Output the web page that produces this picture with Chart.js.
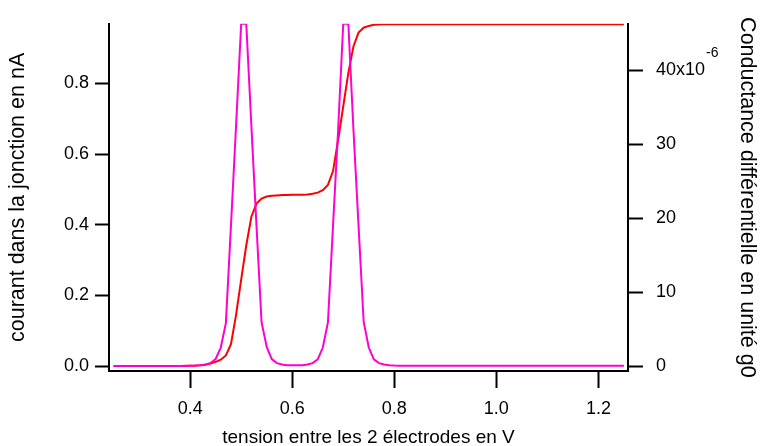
<!DOCTYPE html>
<html>
<head>
<meta charset="utf-8">
<script src="https://cdn.jsdelivr.net/npm/chart.js@4.4.0/dist/chart.umd.min.js"></script>
<style>
  html, body { margin: 0; padding: 0; background: #fff; }
</style>
</head>
<body>
<canvas id="chart" width="760" height="446"></canvas>
<script>
// tension (V)
const voltage = [
  0.25, 0.26, 0.27, 0.28, 0.29, 0.30, 0.31, 0.32, 0.33, 0.34,
  0.35, 0.36, 0.37, 0.38, 0.39, 0.40, 0.41, 0.42, 0.43, 0.44,
  0.45, 0.46, 0.47, 0.48, 0.49, 0.50, 0.51, 0.52, 0.53, 0.54,
  0.55, 0.56, 0.57, 0.58, 0.59, 0.60, 0.61, 0.62, 0.63, 0.64,
  0.65, 0.66, 0.67, 0.68, 0.69, 0.70, 0.71, 0.72, 0.73, 0.74,
  0.75, 0.76, 0.77, 0.78, 0.79, 0.80, 0.81, 0.82, 0.83, 0.84,
  0.85, 0.86, 0.87, 0.88, 0.89, 0.90, 0.91, 0.92, 0.93, 0.94,
  0.95, 0.96, 0.97, 0.98, 0.99, 1.00, 1.01, 1.02, 1.03, 1.04,
  1.05, 1.06, 1.07, 1.08, 1.09, 1.10, 1.11, 1.12, 1.13, 1.14,
  1.15, 1.16, 1.17, 1.18, 1.19, 1.20, 1.21, 1.22, 1.23, 1.24,
  1.25
];

// courant (nA)
const currentNA = [
  0, 0, 0, 0, 0, 0, 0, 0, 0, 0,
  0, 0, 0, 0, 0.0005, 0.001, 0.001, 0.002, 0.004, 0.007,
  0.012, 0.018, 0.030, 0.062, 0.145, 0.245, 0.342, 0.423, 0.460, 0.474,
  0.480, 0.482, 0.483, 0.484, 0.484, 0.485, 0.485, 0.485, 0.486, 0.488,
  0.491, 0.498, 0.513, 0.552, 0.640, 0.735, 0.830, 0.905, 0.944, 0.958,
  0.963, 0.966, 0.967, 0.968, 0.968, 0.968, 0.968, 0.968, 0.968, 0.968,
  0.968, 0.968, 0.968, 0.968, 0.968, 0.968, 0.968, 0.968, 0.968, 0.968,
  0.968, 0.968, 0.968, 0.968, 0.968, 0.968, 0.968, 0.968, 0.968, 0.968,
  0.968, 0.968, 0.968, 0.968, 0.968, 0.968, 0.968, 0.968, 0.968, 0.968,
  0.968, 0.968, 0.968, 0.968, 0.968, 0.968, 0.968, 0.968, 0.968, 0.968,
  0.968
];

// conductance differentielle (x10^-6 g0), peaks shown cut at the top of the axis
const conductanceE6 = [
  0.02, 0.02, 0.02, 0.02, 0.02, 0.02, 0.02, 0.02, 0.02, 0.02,
  0.02, 0.02, 0.02, 0.02, 0.03, 0.04, 0.06, 0.1, 0.2, 0.4,
  0.95, 2.5, 5.8, 19, 32.5, 46.3, 46.3, 32.5, 19, 5.9,
  2.6, 0.95, 0.4, 0.2, 0.12, 0.1, 0.1, 0.12, 0.2, 0.4,
  0.9, 2.5, 5.9, 19, 32, 46.3, 46.3, 32, 19, 6,
  2.5, 0.9, 0.4, 0.2, 0.1, 0.06, 0.04, 0.03, 0.03, 0.03,
  0.03, 0.03, 0.03, 0.03, 0.03, 0.03, 0.03, 0.03, 0.03, 0.03,
  0.03, 0.03, 0.03, 0.03, 0.03, 0.03, 0.03, 0.03, 0.03, 0.03,
  0.03, 0.03, 0.03, 0.03, 0.03, 0.03, 0.03, 0.03, 0.03, 0.03,
  0.03, 0.03, 0.03, 0.03, 0.03, 0.03, 0.03, 0.03, 0.03, 0.03,
  0.03
];

const xTicks = [0.4, 0.6, 0.8, 1.0, 1.2];
const leftTicks = [0.0, 0.2, 0.4, 0.6, 0.8];
const rightTicks = [0, 10, 20, 30, 40];

Chart.defaults.font.family = '"Liberation Sans", Arial, sans-serif';
Chart.defaults.color = '#000';

// "-6" exponent after the 40x10 label
const exponentLabel = {
  id: 'exponentLabel',
  afterDraw(chart) {
    const s = chart.scales.y2;
    const ctx = chart.ctx;
    const y = s.getPixelForValue(40);
    ctx.save();
    ctx.font = '18px "Liberation Sans"';
    const w = ctx.measureText('40x10').width;
    const x0 = s.left + 15 + 13;
    ctx.font = '14px "Liberation Sans"';
    ctx.fillStyle = '#000';
    ctx.textAlign = 'left';
    ctx.textBaseline = 'alphabetic';
    ctx.fillText('-6', x0 + w + 1, y - 13);
    ctx.restore();
  }
};

const pts = (ys) => voltage.map((v, i) => ({ x: v, y: ys[i] }));

new Chart(document.getElementById('chart'), {
  type: 'line',
  data: {
    datasets: [
      {
        label: 'conductance',
        data: pts(conductanceE6),
        yAxisID: 'y2',
        borderColor: '#ff00d0',
        borderWidth: 2,
        order: 0
      },
      {
        label: 'courant',
        data: pts(currentNA),
        yAxisID: 'y',
        borderColor: '#ff0000',
        borderWidth: 2,
        order: 1
      }
    ]
  },
  options: {
    responsive: false,
    animation: false,
    devicePixelRatio: 1,
    layout: { padding: { top: 20, left: 0, right: 0, bottom: 0 } },
    plugins: { legend: { display: false }, tooltip: { enabled: false } },
    elements: { point: { radius: 0 }, line: { tension: 0 } },
    scales: {
      x: {
        type: 'linear',
        position: 'bottom',
        min: 0.241,
        max: 1.258,
        afterBuildTicks: (s) => { s.ticks = xTicks.map(v => ({ value: v })); },
        afterFit: (s) => { s.height = 75; },
        ticks: { callback: (v) => v.toFixed(1), font: { size: 18 }, padding: 10, maxRotation: 0, autoSkip: false },
        grid: { drawOnChartArea: false, tickLength: 17, tickColor: '#000', tickWidth: 2 },
        border: { display: true, color: '#000', width: 2 },
        title: { display: true, text: 'tension entre les 2 électrodes en V', font: { size: 19 }, padding: { top: 0, bottom: -3 } }
      },
      y: {
        type: 'linear',
        position: 'left',
        min: -0.014,
        max: 0.969,
        afterBuildTicks: (s) => { s.ticks = leftTicks.map(v => ({ value: v })); },
        afterFit: (s) => { s.width = 109; },
        ticks: { callback: (v) => v.toFixed(1), font: { size: 18 }, padding: 6 },
        grid: { drawOnChartArea: false, tickLength: 14, tickColor: '#000', tickWidth: 2 },
        border: { display: true, color: '#000', width: 2 },
        title: { display: true, text: 'courant dans la jonction en nA', font: { size: 21.5 }, padding: 5 }
      },
      y2: {
        type: 'linear',
        position: 'right',
        min: -0.67,
        max: 46.3,
        afterBuildTicks: (s) => { s.ticks = rightTicks.map(v => ({ value: v })); },
        afterFit: (s) => { s.width = 132; },
        ticks: { callback: (v) => v === 40 ? '40x10' : String(v), font: { size: 18 }, padding: 13 },
        grid: { drawOnChartArea: false, tickLength: 15, tickColor: '#000', tickWidth: 2 },
        border: { display: true, color: '#000', width: 2 },
        title: { display: true, text: 'Conductance différentielle en unité g0', font: { size: 21.5 }, padding: 0 }
      }
    }
  },
  plugins: [exponentLabel]
});
</script>
</body>
</html>
